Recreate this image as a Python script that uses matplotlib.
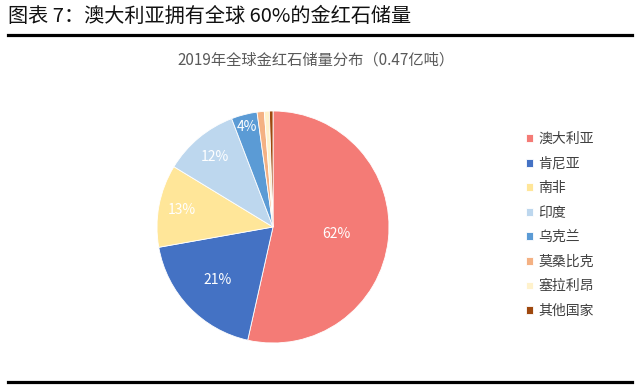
import numpy as np
import matplotlib.pyplot as plt
from matplotlib.lines import Line2D

plt.rcParams['font.family'] = ['Noto Sans CJK SC', 'DejaVu Sans']

countries = ["澳大利亚", "肯尼亚", "南非", "印度", "乌克兰", "莫桑比克", "塞拉利昂", "其他国家"]
# slice shares as measured on the picture (%)
shares = [53.5, 18.7, 11.5, 10.5, 3.6, 1.0, 0.7, 0.5]
# labels printed on the chart
pct_labels = ["62%", "21%", "13%", "12%", "4%", "", "", ""]
label_r = [0.55, 0.66, 0.80, 0.78, 0.89, 0, 0, 0]
colors = ["#F47B76", "#4472C4", "#FFE699", "#BDD7EE", "#5B9BD5", "#F4B183", "#FFF2CC", "#9E480E"]

fig = plt.figure(figsize=(6.4, 3.88), dpi=100)

fig.text(8 / 640, 1 - 16 / 388, "图表 7：澳大利亚拥有全球 60%的金红石储量",
         fontsize=14.5, color="#111111", va="center", ha="left")
fig.add_artist(Line2D([8 / 640, 632 / 640], [1 - 35 / 388] * 2, color="black", lw=2.3))
fig.add_artist(Line2D([8 / 640, 632 / 640], [1 - 382 / 388] * 2, color="black", lw=2.3))
fig.text(316 / 640, 1 - 60 / 388, "2019年全球金红石储量分布（0.47亿吨）",
         fontsize=11, color="#595959", ha="center", va="center", fontweight="light")

ax = fig.add_axes([157 / 640, 45 / 388, 232 / 640, 232 / 388])
wedges, _ = ax.pie(shares, colors=colors, startangle=90, counterclock=False,
                   wedgeprops=dict(edgecolor="white", linewidth=0.6))
ax.set_xlim(-1, 1)
ax.set_ylim(-1, 1)

for w, lab, r in zip(wedges, pct_labels, label_r):
    if not lab:
        continue
    mid = np.deg2rad((w.theta1 + w.theta2) / 2)
    ax.text(r * np.cos(mid), r * np.sin(mid), lab, color="white",
            fontsize=10, ha="center", va="center")

fig.legend(wedges, countries, loc="center left", bbox_to_anchor=(519 / 640, 1 - 225 / 388),
           frameon=False, fontsize=10, handlelength=0.5, handleheight=0.5,
           handletextpad=0.4, labelspacing=0.76, borderpad=0, labelcolor="#404040")

fig.savefig("out.png", dpi=100)
